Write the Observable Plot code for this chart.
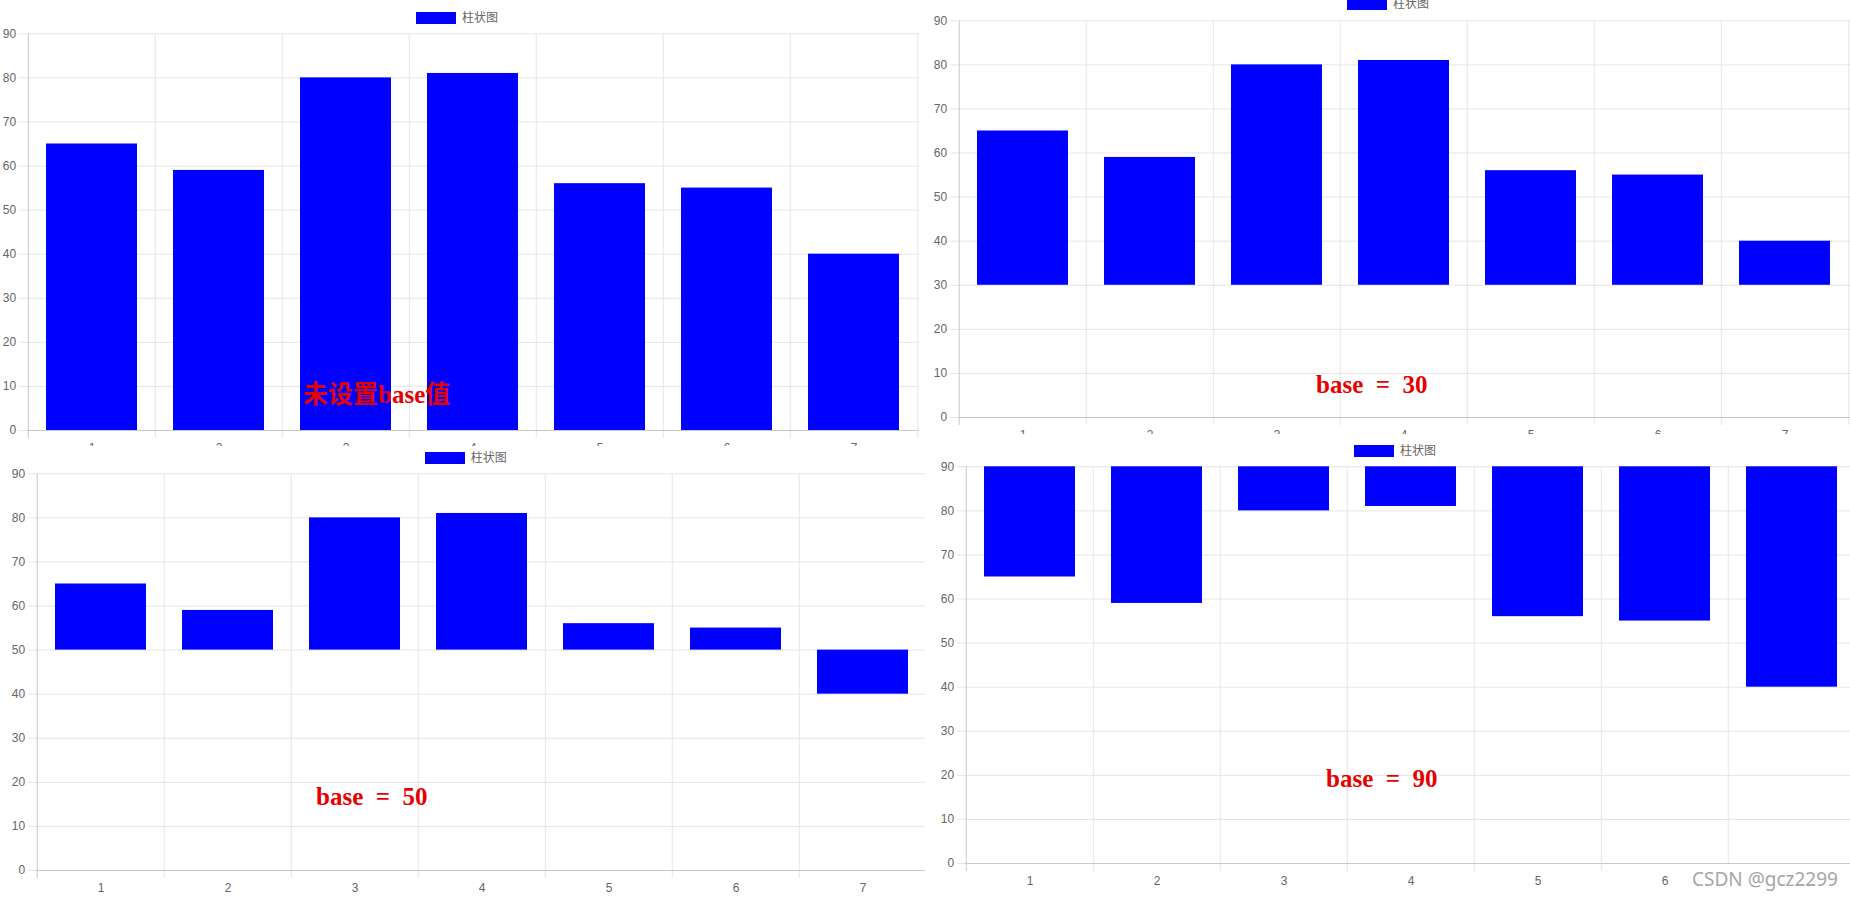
<!DOCTYPE html>
<html>
<head>
<meta charset="utf-8">
<script src="https://cdn.jsdelivr.net/npm/d3@7"></script>
<script src="https://cdn.jsdelivr.net/npm/@observablehq/plot@0.6"></script>
<style>
  html, body { margin: 0; padding: 0; background: #fff; }
  body { width: 1850px; height: 900px; position: relative; overflow: hidden;
         font-family: "Liberation Sans", "Noto Sans CJK SC", sans-serif; }
  .clip { position: absolute; overflow: hidden; }
  .panel { position: absolute; width: 925px; height: 470px; }
  .panel svg { position: absolute; left: 0; top: 0; }
  .legend { position: absolute; left: 416px; top: 1px; }
  .legend div, .legend span { font-family: "Liberation Sans", "Noto Sans CJK SC", sans-serif !important;
         font-size: 12px !important; color: #666 !important; margin: 0 !important; line-height: 12px; }
  .legend svg { position: static !important; margin-right: 6px !important; }
  .note { position: absolute; color: #e60000; font-weight: bold; font-size: 25px; line-height: 1;
          white-space: pre; font-family: "Liberation Serif", "Noto Sans CJK SC", serif; z-index: 5; }
  .wm { position: absolute; left: 1684px; top: 865px; width: 166px; height: 35px; background: #fff;
        color: #a6a6a6; font-family: "Noto Sans", "Open Sans", sans-serif; font-size: 19px;
        line-height: 28px; padding-left: 8px; box-sizing: border-box; z-index: 5; }
</style>
</head>
<body>
<script>
// ---- data ----
const categories = ["1", "2", "3", "4", "5", "6", "7"];
const values = [65, 59, 80, 81, 56, 55, 40];
const bases = [0, 30, 50, 90];
const yTicks = [0, 10, 20, 30, 40, 50, 60, 70, 80, 90];
const seriesName = "柱状图";
const notes = ["未设置base值", "base  =  30", "base  =  50", "base  =  90"];
const watermark = "CSDN @gcz2299";

// ---- layout (clip box on page, content offset inside clip) ----
const layout = [
  {clip: [0, 0, 925, 446], off: [0, 0], note: [303, 382]},
  {clip: [925, 0, 925, 434], off: [6, -13.3], note: [1316, 372.3]},
  {clip: [0, 446, 925, 454], off: [8.7, -6], note: [316, 784]},
  {clip: [925, 434, 925, 466], off: [13, -0.6], note: [1326, 765.7]}
];

const W = 925, H = 470, ML = 26.7, MR = 6, MT = 33.3, MB = 40;
const step = (W - ML - MR) / categories.length;
const gridColor = "#e6e6e6", axisColor = "#c9c9c9", blue = "#0000ff";

function chart(base) {
  const rows = categories.map((c, i) => ({cat: c, value: values[i], base}));
  return Plot.plot({
    width: W, height: H,
    marginLeft: ML, marginRight: MR, marginTop: MT, marginBottom: MB,
    style: {fontFamily: "Liberation Sans, Noto Sans CJK SC, sans-serif", fontSize: "12px",
            color: "#666", background: "transparent", overflow: "visible"},
    x: {type: "band", domain: categories, paddingInner: 0.28, paddingOuter: 0.14, align: 0.5, label: null},
    y: {domain: [0, 90], label: null},
    marks: [
      Plot.ruleY(yTicks.filter(t => t !== 0), {stroke: gridColor}),
      Plot.ruleX(categories.slice(1), {x: d => d, dx: -step / 2, stroke: gridColor, insetBottom: -8}),
      Plot.ruleX(categories.slice(-1), {x: d => d, dx: step / 2, stroke: gridColor, insetBottom: -8}),
      Plot.axisY({ticks: yTicks, tickSize: 8, tickPadding: 3, stroke: gridColor, fill: "#666"}),
      Plot.axisX({tickSize: 0, tickPadding: 13, fill: "#666"}),
      Plot.barY(rows, {x: "cat", y1: "base", y2: "value", fill: blue}),
      Plot.ruleY([0], {stroke: axisColor}),
      Plot.ruleX(categories.slice(0, 1), {x: d => d, dx: -step / 2, stroke: axisColor, insetBottom: -8})
    ]
  });
}

bases.forEach((base, k) => {
  const L = layout[k];
  const clip = document.createElement("div");
  clip.className = "clip";
  Object.assign(clip.style, {left: L.clip[0] + "px", top: L.clip[1] + "px",
                             width: L.clip[2] + "px", height: L.clip[3] + "px"});
  const panel = document.createElement("div");
  panel.className = "panel";
  Object.assign(panel.style, {left: L.off[0] + "px", top: L.off[1] + "px"});
  panel.appendChild(chart(base));
  const leg = document.createElement("div");
  leg.className = "legend";
  leg.appendChild(Plot.legend({
    color: {type: "ordinal", domain: [seriesName], range: [blue]},
    legend: "swatches", swatchWidth: 40, swatchHeight: 12
  }));
  panel.appendChild(leg);
  clip.appendChild(panel);
  document.body.appendChild(clip);

  const n = document.createElement("div");
  n.className = "note";
  n.textContent = notes[k];
  n.style.left = L.note[0] + "px";
  n.style.top = L.note[1] + "px";
  document.body.appendChild(n);
});

const wm = document.createElement("div");
wm.className = "wm";
wm.textContent = watermark;
document.body.appendChild(wm);
</script>
</body>
</html>
